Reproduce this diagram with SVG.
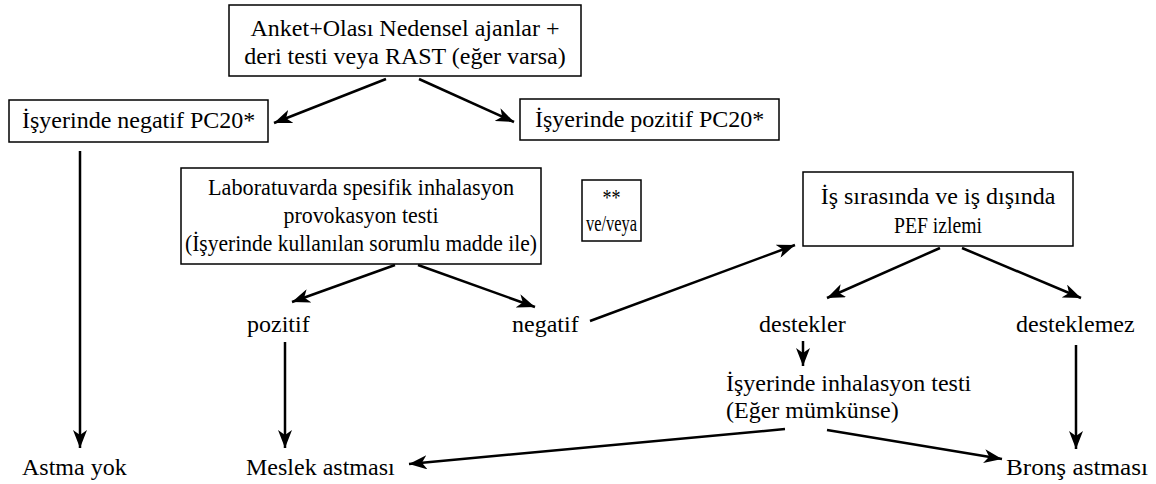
<svg xmlns="http://www.w3.org/2000/svg" width="1156" height="484" viewBox="0 0 1156 484">
<style>
.t{font-size:24px;fill:#000}
.box{fill:#fff;stroke:#000;stroke-width:1.5}
.c{text-anchor:middle}
.e{fill:none;stroke:#000;stroke-width:2.5}
</style>
<defs>
<marker id="ah" markerUnits="userSpaceOnUse" markerWidth="20" markerHeight="14" refX="18" refY="7" orient="auto">
<path d="M0,0 L18,7 L0,14 L5,7 z" fill="#000"/>
</marker>
</defs>
<rect width="1156" height="484" fill="#fff"/>
<g id="connectors">
<line class="e" x1="386" y1="79" x2="274" y2="123" marker-end="url(#ah)"/>
<line class="e" x1="419" y1="79" x2="514" y2="122" marker-end="url(#ah)"/>
<line class="e" x1="80" y1="151" x2="80" y2="448" marker-end="url(#ah)"/>
<line class="e" x1="395" y1="265" x2="292" y2="302" marker-end="url(#ah)"/>
<line class="e" x1="418" y1="265" x2="535" y2="307" marker-end="url(#ah)"/>
<line class="e" x1="590" y1="321" x2="795" y2="245" marker-end="url(#ah)"/>
<line class="e" x1="940" y1="248" x2="827" y2="298" marker-end="url(#ah)"/>
<line class="e" x1="962" y1="248" x2="1081" y2="298" marker-end="url(#ah)"/>
<line class="e" x1="285" y1="342" x2="285" y2="448" marker-end="url(#ah)"/>
<line class="e" x1="803" y1="341" x2="803" y2="366" marker-end="url(#ah)"/>
<line class="e" x1="1076" y1="345" x2="1076" y2="449" marker-end="url(#ah)"/>
<line class="e" x1="785" y1="429" x2="409" y2="464" marker-end="url(#ah)"/>
<line class="e" x1="827" y1="430" x2="1002" y2="459" marker-end="url(#ah)"/>
</g>
<g class="t" font-family="'Liberation Serif', Tinos, 'Times New Roman', Times, serif">
<g id="n-top">
<rect class="box" x="229" y="5" width="352" height="71"/>
<text class="c" x="405" y="36">Anket+Olası Nedensel ajanlar +</text>
<text class="c" x="405" y="64">deri testi veya RAST (eğer varsa)</text>
</g>
<g id="n-neg">
<rect class="box" x="9" y="100" width="259" height="42"/>
<text x="22" y="128">İşyerinde negatif PC20*</text>
</g>
<g id="n-pos">
<rect class="box" x="520" y="99" width="259" height="41"/>
<text x="535" y="127">İşyerinde pozitif PC20*</text>
</g>
<g id="n-lab">
<rect class="box" x="181" y="168" width="360" height="96"/>
<text class="c" x="361" y="195" textLength="306" lengthAdjust="spacingAndGlyphs">Laboratuvarda spesifik inhalasyon</text>
<text class="c" x="361" y="223" textLength="155" lengthAdjust="spacingAndGlyphs">provokasyon testi</text>
<text class="c" x="361" y="251" textLength="352" lengthAdjust="spacingAndGlyphs">(İşyerinde kullanılan sorumlu madde ile)</text>
</g>
<g id="n-veya">
<rect class="box" x="582" y="180" width="59" height="61"/>
<text class="c" x="611.5" y="205" textLength="18" lengthAdjust="spacingAndGlyphs">**</text>
<text class="c" x="611.5" y="231" textLength="51" lengthAdjust="spacingAndGlyphs">ve/veya</text>
</g>
<g id="n-pef">
<rect class="box" x="803" y="172" width="270" height="74"/>
<text class="c" x="938" y="204">İş sırasında ve iş dışında</text>
<text class="c" x="938" y="233" textLength="88" lengthAdjust="spacingAndGlyphs">PEF izlemi</text>
</g>
<g id="n-pozitif"><text x="247" y="332">pozitif</text></g>
<g id="n-negatif"><text x="512" y="332">negatif</text></g>
<g id="n-destekler"><text x="759" y="332">destekler</text></g>
<g id="n-desteklemez"><text x="1016" y="332">desteklemez</text></g>
<g id="n-isyeri">
<text x="726" y="391">İşyerinde inhalasyon testi</text>
<text x="726" y="418">(Eğer mümkünse)</text>
</g>
<g id="n-astmayok"><text x="22" y="475">Astma yok</text></g>
<g id="n-meslek"><text x="246" y="475">Meslek astması</text></g>
<g id="n-bronz"><text x="1006" y="475" textLength="142" lengthAdjust="spacingAndGlyphs">Bronş astması</text></g>
</g>
</svg>
